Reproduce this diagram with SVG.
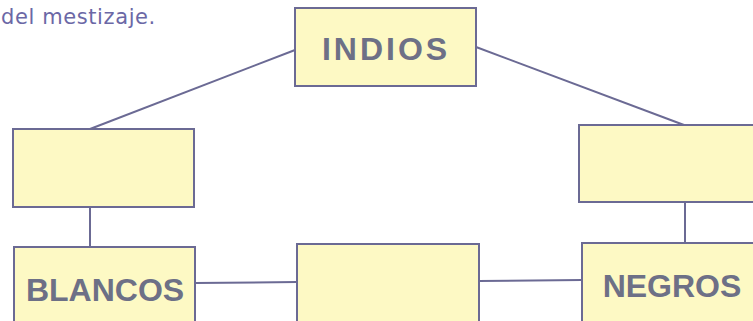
<svg xmlns="http://www.w3.org/2000/svg" width="753" height="321" viewBox="0 0 753 321">
<style>
.box{fill:#fdf9c4;stroke:#6b6a94;stroke-width:2}
.lbl{font-family:"Liberation Sans",sans-serif;font-weight:bold;font-size:32px;fill:#6d7086;text-anchor:middle}
.con line{stroke:#6b6a94;stroke-width:2}
</style>
<rect width="753" height="321" fill="#ffffff"/>
<text x="1" y="24" font-family="DejaVu Sans, sans-serif" font-size="21" letter-spacing="0.6" fill="#6b68a6">del mestizaje.</text>
<g class="con">
<line x1="295" y1="50" x2="90" y2="129"/>
<line x1="476" y1="47" x2="684" y2="125"/>
<line x1="90" y1="207" x2="90" y2="247"/>
<line x1="685" y1="202" x2="685" y2="243"/>
<line x1="195" y1="283" x2="297" y2="282"/>
<line x1="479" y1="281" x2="582" y2="280"/>
</g>
<g id="indios"><rect class="box" x="295" y="8" width="181" height="78"/><text class="lbl" x="386" y="60" letter-spacing="3">INDIOS</text></g>
<g id="left-empty"><rect class="box" x="13" y="129" width="181" height="78"/></g>
<g id="right-empty"><rect class="box" x="579" y="125" width="180" height="77"/></g>
<g id="blancos"><rect class="box" x="14" y="247" width="181" height="80"/><text class="lbl" x="105" y="301">BLANCOS</text></g>
<g id="center-empty"><rect class="box" x="297" y="244" width="182" height="83"/></g>
<g id="negros"><rect class="box" x="582" y="243" width="180" height="84"/><text class="lbl" x="672" y="297">NEGROS</text></g>
</svg>
